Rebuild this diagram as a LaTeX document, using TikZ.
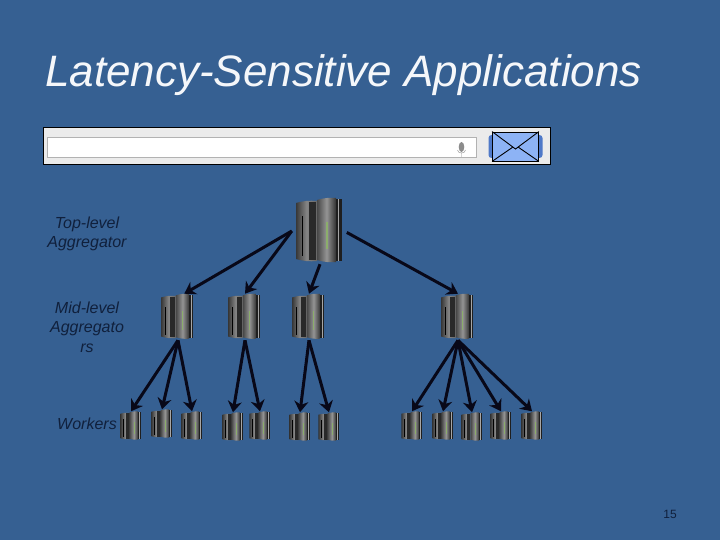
\documentclass[tikz,border=0pt]{standalone}
\usepackage{fontspec}
\setmainfont{Liberation Sans}
\usepackage{xcolor}
\usetikzlibrary{arrows.meta,positioning}
\definecolor{slidebg}{HTML}{366092}
\definecolor{labelink}{HTML}{10203C}
\definecolor{flowink}{HTML}{080818}
\definecolor{mailblue}{HTML}{8DB3F5}
\definecolor{mailside}{HTML}{4F79C8}
\definecolor{rackled}{HTML}{8CAE6C}
\tikzset{
  labeltext/.style={font=\itshape\fontsize{16}{19.5}\selectfont, text=labelink, align=center, inner sep=0pt},
  flow/.style={-{Stealth[length=11pt,width=14pt]}, line width=3pt, draw=flowink},
}
% name, x, y, scale
\newcommand{\rack}[4]{%
  \begin{scope}[shift={(#2,#3)},scale=#4]
    \shade[left color=black!78,right color=black!60,middle color=black!48] (-24,-28) to[bend left=10] (-3,-30) -- (-3,30) to[bend left=10] (-24,28) -- cycle;
    \fill[black!84] (-11,-29) rectangle (-4,29);
    \fill[black] (-18.5,-15) rectangle (-17,25);
    \shade[left color=black!72,right color=black!80,middle color=black!42] (-3,-31) to[bend left=10] (16,-33) -- (16,31) to[bend left=10] (-3,29) -- cycle;
    \fill[black!88] (16,-32) rectangle (22,30);
    \fill[black!35] (18,-32) rectangle (19,30);
    \fill[rackled] (6,-9) rectangle (7.5,18);
  \end{scope}
  \node[minimum width=#4*48pt, minimum height=#4*66pt, inner sep=0pt] (#1) at (#2,#3) {};
}
\begin{document}
\begin{tikzpicture}[x=1pt,y=-1pt]
\fill[slidebg] (0,0) rectangle (720,540);
\useasboundingbox (0,0) rectangle (720,540);
\node[anchor=west, inner sep=0pt, text=white!95!slidebg, font=\itshape\fontsize{44}{50}\selectfont] (title) at (45,75) {Latency-Sensitive Applications};
% search bar
\node[draw=black, fill=black!8, line width=0.9pt, minimum width=507pt, minimum height=37pt, inner sep=0pt] (bar) at (296.5,145.5) {};
\node[draw=black!30, fill=white, minimum width=429pt, minimum height=20pt, inner sep=0pt] (field) at (262,147) {};
\fill[black!45] (461.5,147) ellipse (2.8 and 5);
\draw[black!45] (457.5,150) .. controls (457.5,154) and (465.5,154) .. (465.5,150) (461.5,153) -- (461.5,157);
\node[fill=mailside, rounded corners=3pt, minimum width=54pt, minimum height=23pt, inner sep=0pt] (mailback) at (515.5,146.5) {};
\node[draw=black, fill=mailblue, line width=0.9pt, minimum width=46pt, minimum height=29pt, inner sep=0pt] (mail) at (515.5,146.5) {};
\draw[black, line width=0.9pt] (mail.north west) -- (515.5,149) -- (mail.north east) (mail.south west) -- (513,147) (mail.south east) -- (518,147);
% labels
\node[labeltext] (toplabel) at (87,234) {Top-level\\Aggregator};
\node[labeltext] (midlabel) at (87,327) {Mid-level\\Aggregato\\rs};
\node[labeltext] (worklabel) at (87,424) {Workers};
\node[inner sep=0pt, text=labelink, font=\fontsize{12}{14}\selectfont] (pagenum) at (670,514) {15};
% racks
\rack{top}{320}{231}{1}
\rack{mida}{178}{317}{0.7}
\rack{midb}{245}{317}{0.7}
\rack{midc}{309}{317}{0.7}
\rack{midd}{458}{317}{0.7}
\foreach \n/\x/\y in {a/131/426,b/162/424,c/192/426,d/233/427,e/260/426,f/300/427,g/329/427,h/412/426,i/443/426,j/472/427,k/501/426,l/532/426}
  \rack{work\n}{\x}{\y}{0.44}
% arrows
\coordinate (fan) at ([xshift=-4pt]top.west);
\draw[flow] (fan) -- (mida.75);
\draw[flow] (fan) -- (midb.north);
\draw[flow] (top.south) -- (midc.north);
\draw[flow, shorten <=3pt] (top.east) -- (midd.north);
\foreach \m/\w in {mida/a,mida/b,mida/c,midb/d,midb/e,midc/f,midc/g,midd/h,midd/i,midd/j,midd/k,midd/l}
  \draw[flow] (\m.south) -- (work\w.north);
\end{tikzpicture}
\end{document}
